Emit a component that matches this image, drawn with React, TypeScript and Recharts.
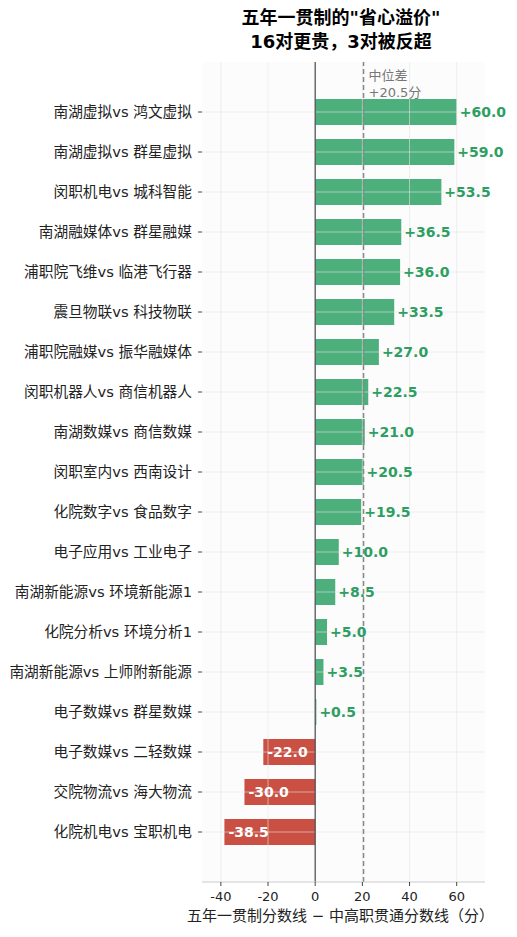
import React from 'react';
import { BarChart, Bar, XAxis, YAxis, CartesianGrid, ReferenceLine, Cell, LabelList } from 'recharts';

const categories = [
  '南湖虚拟vs 鸿文虚拟',
  '南湖虚拟vs 群星虚拟',
  '闵职机电vs 城科智能',
  '南湖融媒体vs 群星融媒',
  '浦职院飞维vs 临港飞行器',
  '震旦物联vs 科技物联',
  '浦职院融媒vs 振华融媒体',
  '闵职机器人vs 商信机器人',
  '南湖数媒vs 商信数媒',
  '闵职室内vs 西南设计',
  '化院数字vs 食品数字',
  '电子应用vs 工业电子',
  '南湖新能源vs 环境新能源1',
  '化院分析vs 环境分析1',
  '南湖新能源vs 上师附新能源',
  '电子数媒vs 群星数媒',
  '电子数媒vs 二轻数媒',
  '交院物流vs 海大物流',
  '化院机电vs 宝职机电',
];

const diffs = [60.0, 59.0, 53.5, 36.5, 36.0, 33.5, 27.0, 22.5, 21.0, 20.5, 19.5, 10.0, 8.5, 5.0, 3.5, 0.5, -22.0, -30.0, -38.5];

const xTicks = [-40, -20, 0, 20, 40, 60];
const medianDiff = 20.5;
const titleLines = ['五年一贯制的"省心溢价"', '16对更贵，3对被反超'];
const xLabel = '五年一贯制分数线 − 中高职贯通分数线（分）';
const medianLabel = ['中位差', '+20.5分'];

const data = categories.map((name, i) => ({ name, diff: diffs[i] }));

const FONT = "'DejaVu Sans', 'Noto Sans CJK SC', sans-serif";
const GREEN = '#4daf7c';
const RED = '#c95043';
const GREEN_TEXT = '#2e9e62';

const ValueLabel = (props: any) => {
  const { x, y, width, height, value } = props;
  const left = Math.min(x, x + width);
  const right = Math.max(x, x + width);
  const pos = value >= 0;
  const tx = pos ? right + 3 : left + 4;
  const txt = (pos ? '+' : '') + Number(value).toFixed(1);
  return (
    <text
      x={tx}
      y={y + height / 2}
      dominantBaseline="central"
      textAnchor="start"
      fontFamily={FONT}
      fontSize={14}
      fontWeight="bold"
      fill={pos ? GREEN_TEXT : '#ffffff'}
    >
      {txt}
    </text>
  );
};

const MedianLabel = (props: any) => {
  const vb = props.viewBox || {};
  return (
    <text x={vb.x + 5} y={vb.y} fontFamily={FONT} fontSize={13} fill="#777">
      <tspan x={vb.x + 5} y={vb.y + 18}>{medianLabel[0]}</tspan>
      <tspan x={vb.x + 5} y={vb.y + 35}>{medianLabel[1]}</tspan>
    </text>
  );
};

const XTitle = (props: any) => {
  const vb = props.viewBox || {};
  return (
    <text
      x={vb.x + vb.width / 2 - 3}
      y={vb.y + 34}
      textAnchor="middle"
      dominantBaseline="central"
      fontFamily={FONT}
      fontSize={15}
      fill="#222"
    >
      {xLabel}
    </text>
  );
};

export default function App() {
  return (
    <div style={{ position: 'absolute', left: 0, top: 0, width: 517, height: 937, background: '#fff' }}>
      <div
        style={{
          position: 'absolute',
          left: 341 - 170,
          width: 340,
          top: 6,
          textAlign: 'center',
          fontFamily: FONT,
          fontWeight: 'bold',
          fontSize: 18,
          lineHeight: '24px',
          color: '#000',
        }}
      >
        <div>{titleLines[0]}</div>
        <div>{titleLines[1]}</div>
      </div>
      <BarChart
        width={517}
        height={937}
        data={data}
        layout="vertical"
        margin={{ top: 62, right: 32, bottom: 0, left: 0 }}
        barSize={26}
      >
        <CartesianGrid fill="#fcfcfc" stroke="none" horizontal={false} vertical={false} />
        <XAxis
          type="number"
          domain={[-48, 72]}
          ticks={xTicks}
          allowDataOverflow
          height={55}
          axisLine={{ stroke: '#cccccc' }}
          tickLine={{ stroke: '#444' }}
          tickSize={4}
          tickMargin={6}
          tick={{ fontSize: 13, fill: '#222', fontFamily: FONT }}
          label={<XTitle />}
        />
        <YAxis
          type="category"
          dataKey="name"
          width={202}
          axisLine={false}
          tickLine={{ stroke: '#444' }}
          tickSize={4}
          tickMargin={6}
          interval={0}
          padding={{ top: 30, bottom: 30 }}
          tick={{ fontSize: 14.7, fill: '#222', fontFamily: FONT }}
        />
        <Bar dataKey="diff" isAnimationActive={false}>
          {data.map((d, i) => (
            <Cell key={i} fill={d.diff >= 0 ? GREEN : RED} />
          ))}
          <LabelList dataKey="diff" content={<ValueLabel />} />
        </Bar>
        {xTicks.filter((t) => t !== 0).map((t) => (
          <ReferenceLine key={'vx' + t} x={t} stroke="#e4e4e4" strokeOpacity={0.6} strokeWidth={1} />
        ))}
        {categories.map((c) => (
          <ReferenceLine key={'hy' + c} y={c} stroke="#e4e4e4" strokeOpacity={0.6} strokeWidth={1} />
        ))}
        <ReferenceLine x={0} stroke="#555" strokeWidth={1.3} />
        <ReferenceLine
          x={medianDiff}
          stroke="#888"
          strokeWidth={1.5}
          strokeDasharray="5 3"
          label={<MedianLabel />}
        />
      </BarChart>
    </div>
  );
}
